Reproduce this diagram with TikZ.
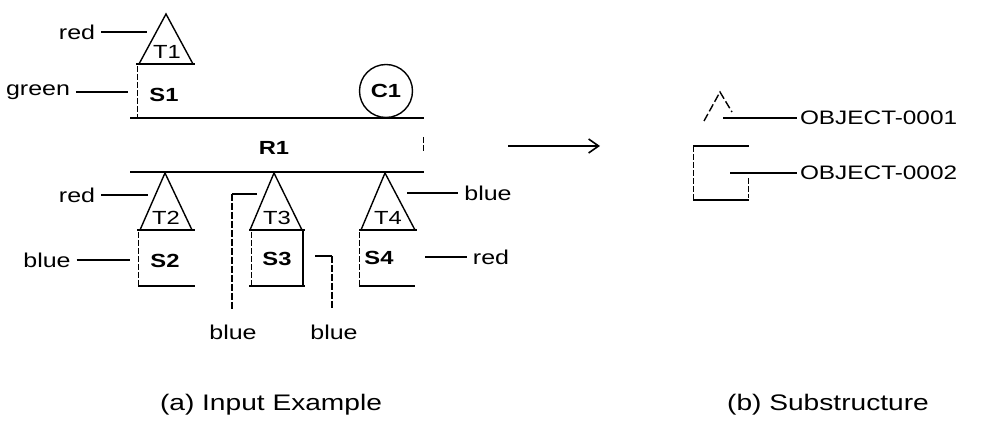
\documentclass[tikz,border=0pt]{standalone}
\usepackage{fontspec}
\setmainfont[FakeStretch=1.25]{Liberation Sans}
\usetikzlibrary{arrows.meta}
\begin{document}
\begin{tikzpicture}[x=1pt,y=-1pt,
  lab/.style={inner sep=0pt, outer xsep=6pt, font=\fontsize{20}{20}\selectfont},
  objlab/.style={inner sep=0pt, outer xsep=3pt, anchor=west, font=\fontsize{19.5}{20}\selectfont},
  sname/.style={inner sep=0pt, font=\fontsize{19}{19}\selectfont\bfseries},
  tname/.style={inner sep=0pt, font=\fontsize{19}{19}\selectfont},
  captext/.style={inner sep=0pt, font=\fontsize{22.5}{23}\selectfont},
  base/.style={line width=2.8pt},
  side/.style={line width=1.4pt},
  edge/.style={line width=1pt, dash pattern=on 6pt off 2pt},
  conn/.style={line width=2pt},
  thinconn/.style={line width=1.1pt, dash pattern=on 7pt off 2pt}]
\useasboundingbox (0,0) rectangle (989,427);

% ---------- T1 / S1 ----------
\coordinate (t1a) at (166,14);
\coordinate (t1l) at (139,64);
\coordinate (t1r) at (193,64);
\coordinate (b1l) at (136,64);
\coordinate (b1r) at (195,64);
\draw[side] (t1l) -- (t1a) -- (t1r);
\draw[base] (b1l) -- (b1r);
\node[tname] (T1) at (167,52) {T1};
\node[lab] (red1) at (77,32) {red};
\coordinate (t1c) at (147,32);
\draw[conn] (red1.east) -- (t1c);

\coordinate (s1tl) at (137,66);
\coordinate (s1bl) at (137,118);
\draw[edge] (s1tl) -- (s1bl);
\node[sname] (S1) at (164,95) {S1};
\node[lab] (green) at (38,92) {green};
\coordinate (s1c) at (128,92);
\draw[conn] (green.east) -- (s1c);

\coordinate (l1a) at (130,118);
\coordinate (l1b) at (424,118);
\draw[base] (l1a) -- (l1b);

% ---------- C1 ----------
\node[draw, circle, minimum size=53pt, inner sep=0pt, line width=1.4pt,
      font=\fontsize{19}{19}\selectfont\bfseries] (C1) at (386,91) {C1};

% ---------- R1 ----------
\node[sname] (R1) at (274,148) {R1};
\coordinate (r1ra) at (423,137);
\coordinate (r1rb) at (423,152);
\draw[edge] (r1ra) -- (r1rb);
\coordinate (l2a) at (130,172);
\coordinate (l2b) at (424,172);
\draw[base] (l2a) -- (l2b);

% ---------- T2 / S2 ----------
\coordinate (t2a) at (165,173);
\coordinate (t2l) at (140,230);
\coordinate (t2r) at (192,230);
\draw[side] (t2l) -- (t2a) -- (t2r);
\coordinate (b2l) at (137,230);
\coordinate (b2r) at (195,230);
\draw[base] (b2l) -- (b2r);
\node[tname] (T2) at (166,218) {T2};
\node[lab] (red2) at (77,195) {red};
\coordinate (t2c) at (148,195);
\draw[conn] (red2.east) -- (t2c);

\coordinate (s2tl) at (138,232);
\coordinate (s2bl) at (138,286);
\coordinate (s2br) at (195,286);
\draw[edge] (s2tl) -- (s2bl);
\draw[base] (s2bl) -- (s2br);
\node[sname] (S2) at (165,261) {S2};
\node[lab] (blue1) at (47,260) {blue};
\coordinate (s2c) at (130,260);
\draw[conn] (blue1.east) -- (s2c);

% ---------- T3 / S3 ----------
\coordinate (t3a) at (274,173);
\coordinate (t3l) at (250,230);
\coordinate (t3r) at (302,230);
\draw[side] (t3l) -- (t3a) -- (t3r);
\coordinate (b3l) at (249,230);
\coordinate (b3r) at (305,230);
\draw[base] (b3l) -- (b3r);
\node[tname] (T3) at (277,218) {T3};
\coordinate (t3c) at (257,194);
\coordinate (t3k) at (232,194);
\coordinate (t3d) at (232,309);
\draw[conn] (t3c) -- (t3k);
\draw[thinconn] (t3k) -- (t3d);
\node[lab] (blue2) at (233,332) {blue};

\coordinate (s3tl) at (251,232);
\coordinate (s3bl) at (251,286);
\coordinate (s3tr) at (303,230);
\coordinate (s3br) at (303,286);
\coordinate (s3bL) at (249,286);
\coordinate (s3bR) at (305,286);
\draw[edge] (s3tl) -- (s3bl);
\draw[side] (s3tr) -- (s3br);
\draw[base] (s3bL) -- (s3bR);
\node[sname] (S3) at (277,259) {S3};
\coordinate (s3c) at (315,256);
\coordinate (s3k) at (332,256);
\coordinate (s3d) at (332,309);
\draw[conn] (s3c) -- (s3k);
\draw[thinconn] (s3k) -- (s3d);
\node[lab] (blue3) at (334,332) {blue};

% ---------- T4 / S4 ----------
\coordinate (t4a) at (385,173);
\coordinate (t4l) at (361,230);
\coordinate (t4r) at (415,230);
\draw[side] (t4l) -- (t4a) -- (t4r);
\coordinate (b4l) at (359,230);
\coordinate (b4r) at (417,230);
\draw[base] (b4l) -- (b4r);
\node[tname] (T4) at (388,218) {T4};
\node[lab] (blue4) at (488,193) {blue};
\coordinate (t4c) at (407,193);
\draw[conn] (t4c) -- (blue4.west);

\coordinate (s4tl) at (359,232);
\coordinate (s4bl) at (359,286);
\coordinate (s4br) at (415,286);
\draw[edge] (s4tl) -- (s4bl);
\draw[base] (s4bl) -- (s4br);
\node[sname] (S4) at (379,258) {S4};
\node[lab] (red3) at (491,257) {red};
\coordinate (s4c) at (425,257);
\draw[conn] (s4c) -- (red3.west);

% ---------- arrow ----------
\coordinate (arrA) at (508,146);
\coordinate (arrB) at (600,146);
\draw[line width=1.6pt, -{Straight Barb[length=10pt,width=14pt,line width=1.6pt]}] (arrA) -- (arrB);

% ---------- substructure ----------
\coordinate (pa) at (720,92);
\coordinate (pl) at (704,121);
\coordinate (pr) at (732,112);
\draw[side, dash pattern=on 8pt off 3pt] (pl) -- (pa) -- (pr);
\node[objlab] (o1) at (797,118) {OBJECT-0001};
\coordinate (o1c) at (723,118);
\draw[conn] (o1c) -- (o1.west);

\coordinate (q1) at (693,146);
\coordinate (q2) at (749,146);
\coordinate (q3) at (693,200);
\coordinate (q4) at (749,200);
\coordinate (q5) at (748,178);
\coordinate (q6) at (748,198);
\draw[base] (q1) -- (q2);
\draw[edge] (q1) -- (q3);
\draw[base] (q3) -- (q4);
\draw[edge] (q5) -- (q6);
\node[objlab] (o2) at (797,173) {OBJECT-0002};
\coordinate (o2c) at (730,173);
\draw[conn] (o2c) -- (o2.west);

% ---------- captions ----------
\node[captext] (capa) at (271,405) {(a) Input Example};
\node[captext] (capb) at (828,405) {(b) Substructure};
\end{tikzpicture}
\end{document}
